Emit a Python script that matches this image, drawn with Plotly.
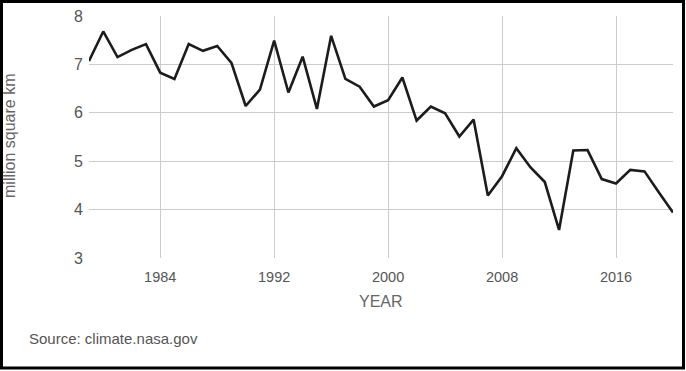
import plotly.graph_objects as go

years = list(range(1979, 2021))
extent = [7.07, 7.68, 7.15, 7.30, 7.42, 6.83, 6.70, 7.42, 7.28, 7.38,
          7.03, 6.14, 6.48, 7.49, 6.42, 7.16, 6.08, 7.59, 6.70, 6.54,
          6.13, 6.26, 6.73, 5.84, 6.13, 5.99, 5.51, 5.86, 4.29, 4.69,
          5.27, 4.87, 4.57, 3.58, 5.22, 5.23, 4.63, 4.54, 4.82, 4.79,
          4.36, 3.94]
x_ticks = [1984, 1992, 2000, 2008, 2016]
y_ticks = [3, 4, 5, 6, 7, 8]

W, H = 686, 371
L, R, T, B = 89, 673, 16, 258


def px(xp):
    return (xp - L) / (R - L)


def py(yp):
    return (B - yp) / (B - T)


fig = go.Figure()
fig.add_trace(go.Scatter(x=years, y=extent, mode="lines",
                         line=dict(color="#1c1c1c", width=2.6), hoverinfo="skip"))

font = "Liberation Sans, Arial, sans-serif"
fig.update_layout(
    width=W, height=H,
    margin=dict(l=L, r=W - R, t=T, b=H - B, autoexpand=False),
    paper_bgcolor="white", plot_bgcolor="white",
    showlegend=False,
    font=dict(family=font, color="#555555"),
    xaxis=dict(range=[1979, 2020], tickvals=x_ticks, showgrid=True,
               gridcolor="#cccccc", gridwidth=1, zeroline=False, showline=False,
               ticks="", tickfont=dict(size=14.5, color="#555555"), ticklabelstandoff=8),
    yaxis=dict(range=[3, 8], tickvals=y_ticks, showgrid=True,
               gridcolor="#cccccc", gridwidth=1, zeroline=False, showline=False,
               ticks="", tickfont=dict(size=16, color="#555555"), ticklabelstandoff=5),
    annotations=[
        dict(text="million square km", x=px(9), y=py(136),
             xref="paper", yref="paper", textangle=-90, showarrow=False,
             font=dict(size=16, color="#666666"), xanchor="center", yanchor="middle"),
        dict(text="YEAR", x=px(381), y=py(301),
             xref="paper", yref="paper", showarrow=False,
             font=dict(size=16, color="#666666"), xanchor="center", yanchor="middle"),
        dict(text="Source: climate.nasa.gov", x=px(27), y=py(338),
             xref="paper", yref="paper", showarrow=False, xanchor="left", yanchor="middle",
             font=dict(size=15, color="#555555")),
    ],
    shapes=[
        dict(type="rect", xref="paper", yref="paper",
             x0=px(1.5), x1=px(683.5), y0=py(368), y1=py(1.5),
             line=dict(color="black", width=3), layer="above"),
    ],
)

fig.write_html("out.html", config={"displayModeBar": False},
               post_script="document.body.style.margin='0';document.body.style.overflow='hidden';")
